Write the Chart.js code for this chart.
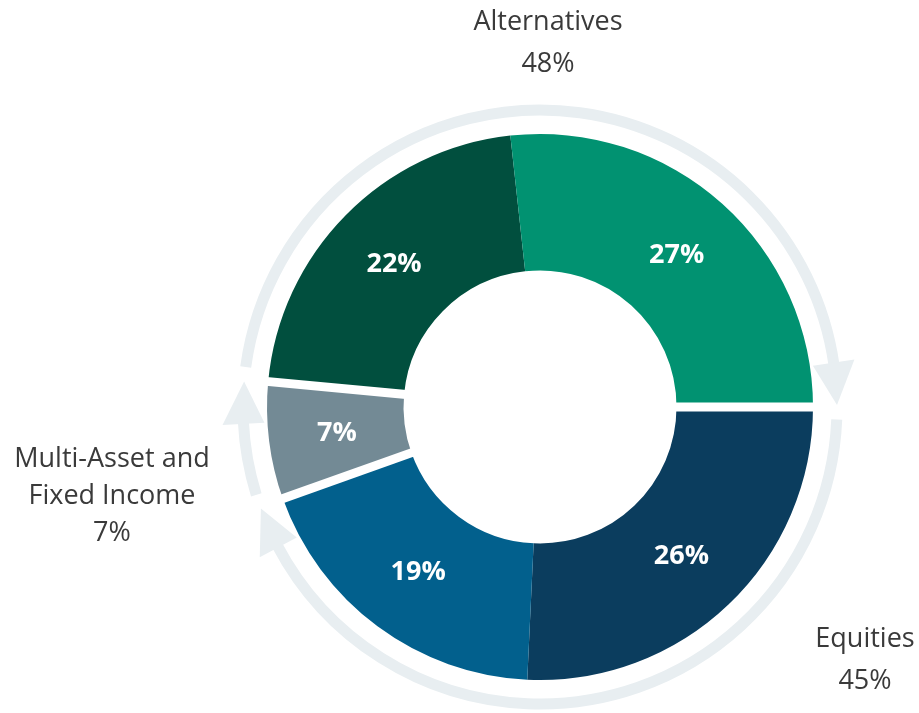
<!DOCTYPE html>
<html>
<head>
<meta charset="utf-8">
<script src="https://cdn.jsdelivr.net/npm/chart.js@4"></script>
<style>
  html, body { margin: 0; padding: 0; background: #fff; }
  #wrap { width: 919px; height: 713px; position: relative; }
</style>
</head>
<body>
<div id="wrap"><canvas id="allocChart"></canvas></div>
<script>
// slices, clockwise from 3 o'clock
const segmentGroups = ['Equities', 'Equities', 'Multi-Asset and Fixed Income', 'Alternatives', 'Alternatives'];
const segmentValues = [26, 19, 7, 22, 27];
const segmentColors = ['#0b3d5e', '#02608d', '#738a95', '#014f3e', '#019271'];

// outer groups (the arrows)
const groupNames = ['Equities', 'Multi-Asset and Fixed Income', 'Alternatives'];
const groupTotals = [45, 7, 48];
const groupLines = [['Equities'], ['Multi-Asset and', 'Fixed Income'], ['Alternatives']];
const groupLabelPos = [{ x: 865, y: 647, lh: 42 }, { x: 112, y: 467, lh: 37 }, { x: 548, y: 30, lh: 42 }];

const deg = Math.PI / 180;
const ringColor = '#e8eef1';

const groupPlugin = {
    id: 'groupPlugin',
    afterDatasetsDraw(chart) {
        const ctx = chart.ctx;
        const arcs = chart.getDatasetMeta(0).data;
        const cx = arcs[0].x, cy = arcs[0].y;
        const outer = arcs[0].outerRadius, inner = arcs[0].innerRadius;
        const ringR = outer + 24;
        const pt = (r, a) => [cx + r * Math.cos(a), cy + r * Math.sin(a)];

        ctx.save();
        groupNames.forEach((g, gi) => {
            const idx = segmentGroups.map((s, i) => s === g ? i : -1).filter(i => i >= 0);
            const start = arcs[idx[0]].startAngle;
            const end = arcs[idx[idx.length - 1]].endAngle;

            // white gap between groups
            ctx.strokeStyle = '#ffffff';
            ctx.lineWidth = 9;
            ctx.beginPath();
            ctx.moveTo(...pt(inner - 2, start));
            ctx.lineTo(...pt(outer + 2, start));
            ctx.stroke();

            // ring + arrowhead
            const tip = end - 0.4 * deg;
            const base = tip - 8.2 * deg;
            ctx.strokeStyle = ringColor;
            ctx.lineWidth = 11;
            ctx.beginPath();
            ctx.arc(cx, cy, ringR, start + 2.4 * deg, base + 0.5 * deg);
            ctx.stroke();
            ctx.fillStyle = ringColor;
            ctx.beginPath();
            ctx.moveTo(...pt(ringR - 21, base));
            ctx.lineTo(...pt(ringR + 21, base));
            ctx.lineTo(...pt(ringR, tip));
            ctx.closePath();
            ctx.fill();

            // group label
            const p = groupLabelPos[gi];
            ctx.fillStyle = '#3a3a3a';
            ctx.font = '27px "Open Sans"';
            ctx.textAlign = 'center';
            ctx.textBaseline = 'alphabetic';
            const lines = groupLines[gi].concat([groupTotals[gi] + '%']);
            lines.forEach((t, li) => ctx.fillText(t, p.x, p.y + li * p.lh));
        });

        // values inside slices
        ctx.fillStyle = '#ffffff';
        ctx.font = 'bold 27px "Open Sans"';
        ctx.textAlign = 'center';
        ctx.textBaseline = 'middle';
        arcs.forEach((arc, i) => {
            const pos = arc.tooltipPosition();
            ctx.fillText(segmentValues[i] + '%', pos.x, pos.y + 1);
        });
        ctx.restore();
    }
};

new Chart(document.getElementById('allocChart'), {
    type: 'doughnut',
    data: {
        labels: segmentGroups,
        datasets: [{
            data: segmentValues,
            backgroundColor: segmentColors,
            borderWidth: 0
        }]
    },
    options: {
        responsive: true,
        maintainAspectRatio: false,
        animation: false,
        rotation: 90,
        cutout: '50%',
        layout: { padding: { left: 267, right: 106, top: 134, bottom: 33 } },
        plugins: {
            legend: { display: false },
            tooltip: { enabled: false }
        }
    },
    plugins: [groupPlugin]
});
</script>
</body>
</html>
